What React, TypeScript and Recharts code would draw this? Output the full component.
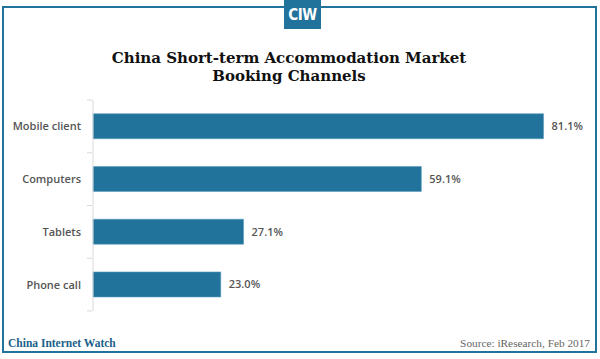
import { Bar, BarChart, LabelList, XAxis, YAxis } from "recharts";

const channels = ["Mobile client", "Computers", "Tablets", "Phone call"];
const shares = [81.1, 59.1, 27.1, 23.0];

const data = channels.map((name, i) => ({ name, share: shares[i] }));

const BLUE = "#22739b";

function ChannelTick(props: any) {
  const { x, y, payload, index } = props;
  const half = payload.offset ?? 0;
  return (
    <g>
      <line x1={x + 2} x2={x + 7} y1={y - half} y2={y - half} stroke="#d9d9d9" />
      {index === channels.length - 1 && (
        <line x1={x + 2} x2={x + 7} y1={y + half} y2={y + half} stroke="#d9d9d9" />
      )}
      <text x={x - 4} y={y} dy={4} textAnchor="end" fill="#555" fontSize={11} fontWeight={600} fontFamily="'Open Sans', sans-serif">
        {payload.value}
      </text>
    </g>
  );
}

export default function App() {
  return (
    <div style={{ position: "fixed", left: 0, top: 0, width: 600, height: 359, background: "#fff", overflow: "hidden" }}>
      <div style={{ position: "absolute", left: 2, top: 6, width: 591, height: 343, border: `2px solid ${BLUE}` }} />
      <div
        style={{
          position: "absolute", left: 284, top: 0, width: 37, height: 29, background: BLUE, color: "#fff",
          fontFamily: "'DejaVu Sans Condensed', 'DejaVu Sans', sans-serif", fontWeight: 700, fontSize: 15,
          display: "flex", alignItems: "center", justifyContent: "center", letterSpacing: -0.5,
        }}
      >
        CIW
      </div>
      <div
        style={{
          position: "absolute", left: -11, top: 49, width: 600, textAlign: "center",
          fontFamily: "'DejaVu Serif', serif", fontWeight: 700, fontSize: 15, lineHeight: "18px", color: "#111",
        }}
      >
        China Short-term Accommodation Market
        <br />
        Booking Channels
      </div>
      <BarChart
        width={600}
        height={359}
        data={data}
        layout="vertical"
        margin={{ top: 100, right: 7, bottom: 48, left: 0 }}
        barCategoryGap="26%"
        style={{ position: "absolute", left: 0, top: 0 }}
      >
        <XAxis type="number" domain={[0, 90]} hide />
        <YAxis
          type="category"
          dataKey="name"
          width={93}
          axisLine={{ stroke: "#d9d9d9" }}
          tickLine={false}
          tick={<ChannelTick />}
        />
        <Bar dataKey="share" fill={BLUE} stroke="#5d9cc0" strokeWidth={0.6} isAnimationActive={false}>
          <LabelList
            dataKey="share"
            position="right"
            offset={8}
            formatter={(v: any) => `${Number(v).toFixed(1)}%`}
            fill="#555"
            fontSize={11}
            fontWeight={600}
            fontFamily="'Open Sans', sans-serif"
          />
        </Bar>
      </BarChart>
      <div
        style={{
          position: "absolute", left: 8, top: 337, fontFamily: "'Liberation Serif', serif", fontWeight: 700,
          fontSize: 11.5, color: "#1a5f8a",
        }}
      >
        China Internet Watch
      </div>
      <div
        style={{
          position: "absolute", right: 10, top: 337, fontFamily: "'Liberation Serif', serif",
          fontSize: 11.3, color: "#666",
        }}
      >
        Source: iResearch, Feb 2017
      </div>
    </div>
  );
}
